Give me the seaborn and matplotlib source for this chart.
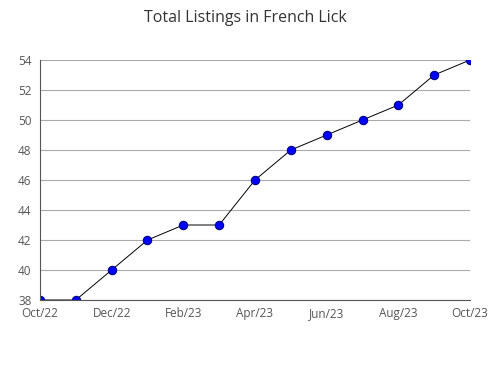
import matplotlib.pyplot as plt
import seaborn as sns

# monthly listing counts, Oct/22 .. Oct/23
months = ["Oct/22", "Nov/22", "Dec/22", "Jan/23", "Feb/23", "Mar/23", "Apr/23",
          "May/23", "Jun/23", "Jul/23", "Aug/23", "Sep/23", "Oct/23"]
listings = [38, 38, 40, 42, 43, 43, 46, 48, 49, 50, 51, 53, 54]
pos = list(range(len(months)))

sns.set_style("white")
plt.rcParams['font.family'] = ['Open Sans', 'DejaVu Sans']

fig = plt.figure(figsize=(4.9, 3.8), dpi=100)
ax = fig.add_axes([0.0816, 0.2105, 0.8776, 0.6316])

sns.lineplot(x=pos, y=listings, ax=ax, color="black", linewidth=0.7,
             marker="o", markersize=6, markerfacecolor="#0000ff",
             markeredgecolor="#000080", markeredgewidth=0.8)

ax.set_xlim(pos[0], pos[-1])
ax.set_ylim(38, 54)
ax.set_yticks(range(38, 55, 2))
ax.set_yticks(range(38, 55, 1), minor=True)
ax.set_xticks(pos[::2], months[::2], va="baseline")
ax.set_xticks(pos, minor=True)

ax.grid(axis="y", color="#aaaaaa", linewidth=0.8)
ax.set_axisbelow(True)
for s in ["top", "right"]:
    ax.spines[s].set_visible(False)
for s in ["left", "bottom"]:
    ax.spines[s].set_color("#555555")
    ax.spines[s].set_linewidth(0.8)

ax.tick_params(axis="both", which="both", direction="in", colors="#555555",
               labelcolor="#555555", labelsize=8.5, length=5, width=0.8)
ax.tick_params(axis="x", pad=12)
ax.tick_params(axis="y", pad=6)
ax.set_xlabel("")
ax.set_ylabel("")

fig.suptitle("Total Listings in French Lick", x=0.5, y=0.975, fontsize=11.5, color="#333333")
fig.savefig("out.png", dpi=100)
